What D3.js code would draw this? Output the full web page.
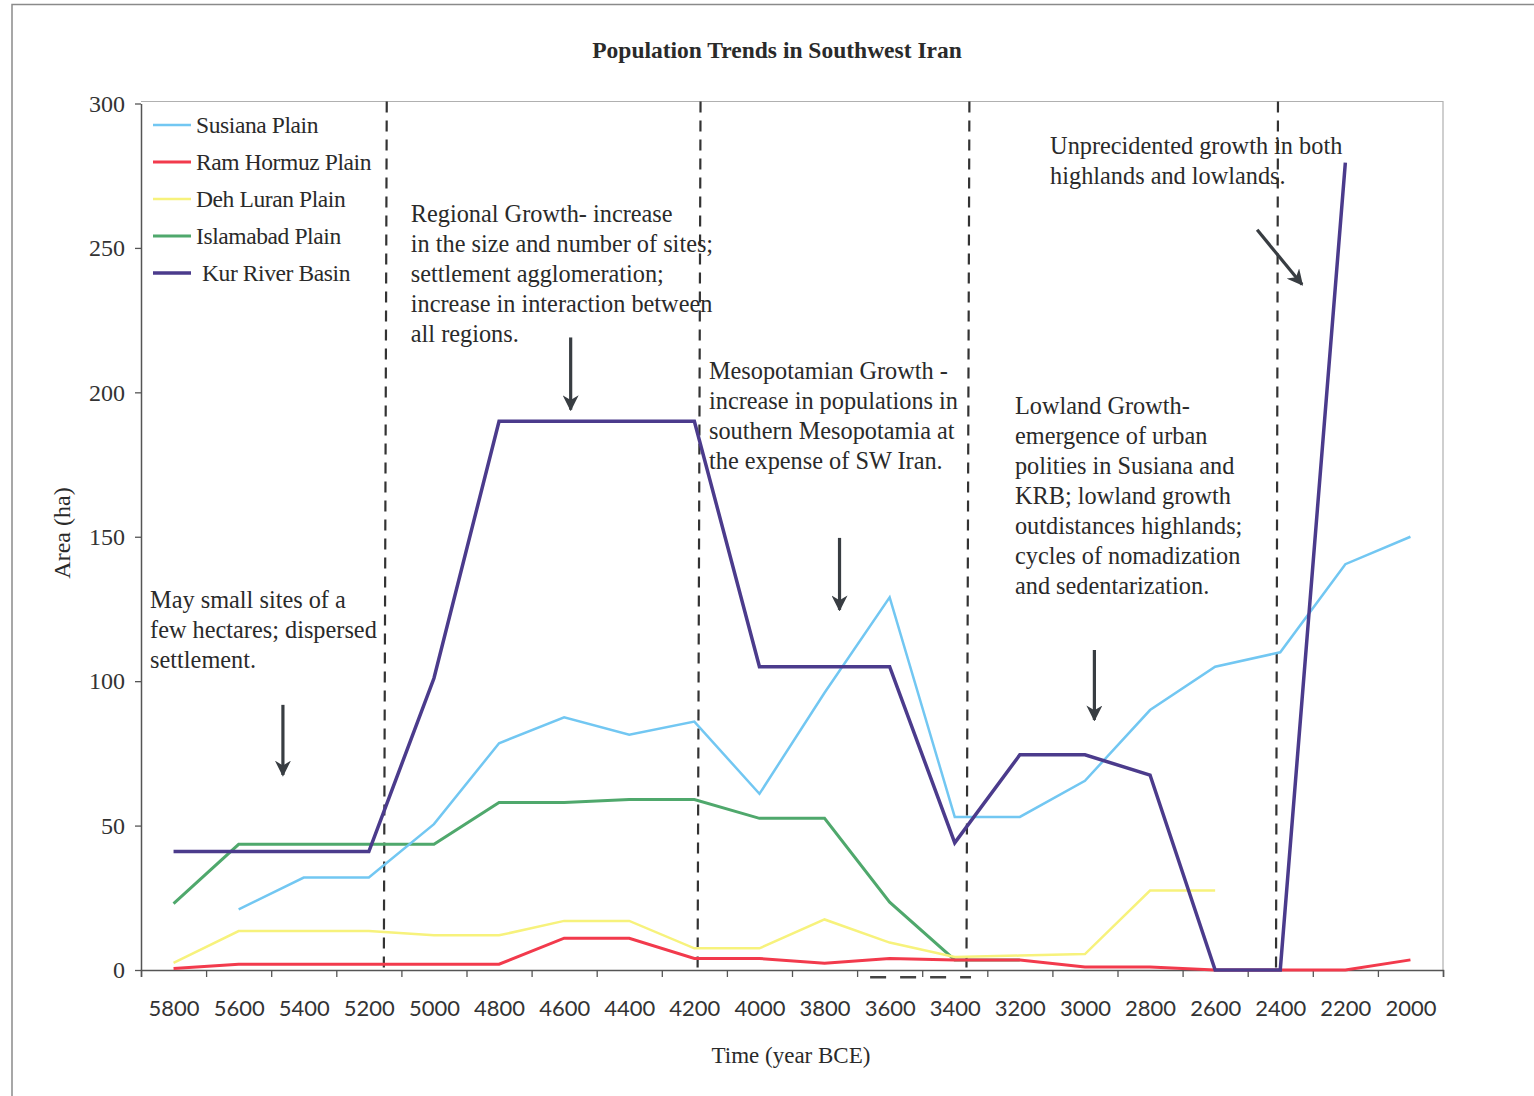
<!DOCTYPE html>
<html>
<head>
<meta charset="utf-8">
<script src="https://cdn.jsdelivr.net/npm/d3@7"></script>
<style>
  html, body { margin: 0; padding: 0; background: #fff; }
  svg { display: block; }
</style>
</head>
<body>
<svg id="chart" width="1534" height="1096"></svg>
<script>
// ---------- DATA ----------
const years = [5800, 5600, 5400, 5200, 5000, 4800, 4600, 4400, 4200, 4000, 3800, 3600, 3400, 3200, 3000, 2800, 2600, 2400, 2200, 2000];
const susianaPlain   = [null, 21, 32, 32, 50.5, 78.5, 87.5, 81.5, 86, 61, 96, 129, 53, 53, 65.5, 90, 105, 110, 140.5, 150];
const ramHormuzPlain = [0.5, 2, 2, 2, 2, 2, 11, 11, 4, 4, 2.3, 4, 3.5, 3.5, 1, 1, 0, 0, 0, 3.5];
const dehLuranPlain  = [2.5, 13.5, 13.5, 13.5, 12, 12, 17, 17, 7.5, 7.5, 17.5, 9.5, 4.5, 5, 5.5, 27.5, 27.5, null, null, null];
const islamabadPlain = [23, 43.5, 43.5, 43.5, 43.5, 58, 58, 59, 59, 52.5, 52.5, 23.5, 3.5, 3.5, null, null, null, null, null, null];
const kurRiverBasin  = [41, 41, 41, 41, 101, 190, 190, 190, 190, 105, 105, 105, 44, 74.5, 74.5, 67.5, 0, 0, 279.5, null];
const seriesNames = ["Susiana Plain", "Ram Hormuz Plain", "Deh Luran Plain", "Islamabad Plain", "Kur River Basin"];
const yTicks = [0, 50, 100, 150, 200, 250, 300];
// category boundaries (tick marks between categories)
const boundaryYears = [5900, 5700, 5500, 5300, 5100, 4900, 4700, 4500, 4300, 4100, 3900, 3700, 3500, 3300, 3100, 2900, 2700, 2500, 2300, 2100, 1900];
// period dividers (dashed), [year at top, year at bottom]
const dividers = [[5145, 5154], [4181, 4190], [3355, 3364], [2407, 2413]];

// ---------- STYLE / LAYOUT ----------
const colors = ["#72c7f2", "#f23a4c", "#f7f27c", "#4fa86c", "#4b3b8c"];
const widths = [2.5, 3, 2.5, 3, 3.5];
const serif = "'Liberation Serif', 'Times New Roman', serif";
const sans = "Lato, 'Open Sans', sans-serif";
const pLeft = 141, pRight = 1443, pTop = 103.5, pBottom = 970;

const svg = d3.select("#chart");
const x = d3.scaleLinear().domain([5900, 1900]).range([pLeft, pRight]);
const y = d3.scaleLinear().domain([0, 300]).range([pBottom, pTop]);

// outer frame (top and left edges)
svg.append("path").attr("d", "M12,1096 L12,4.5 L1534,4.5")
  .attr("fill", "none").attr("stroke", "#8a8a8a").attr("stroke-width", 1.5);

// plot border top/right
svg.append("path").attr("d", `M${pLeft},${pTop - 2} L${pRight},${pTop - 2} L${pRight},${pBottom}`)
  .attr("fill", "none").attr("stroke", "#b0b0b0").attr("stroke-width", 1.2);

// title
svg.append("text").attr("x", 777).attr("y", 58).attr("text-anchor", "middle")
  .style("font-family", serif).style("font-weight", "bold").style("font-size", "23.5px")
  .attr("fill", "#2a2a2a").text("Population Trends in Southwest Iran");

// y axis
const yAxis = d3.axisLeft(y).tickValues(yTicks).tickSize(6).tickSizeOuter(0).tickPadding(10);
const gy = svg.append("g").attr("transform", `translate(${pLeft},0)`).call(yAxis);
gy.select(".domain").attr("stroke", "#555").attr("stroke-width", 1.5);
gy.selectAll(".tick line").attr("stroke", "#555").attr("stroke-width", 1.3);
gy.selectAll(".tick text").style("font-family", serif).style("font-size", "24px").attr("fill", "#333");

// x axis: labels at category centers, tick marks at boundaries
const xAxis = d3.axisBottom(x).tickValues(years).tickSize(0).tickPadding(30).tickFormat(d3.format("d"));
const gx = svg.append("g").attr("transform", `translate(0,${pBottom})`).call(xAxis);
gx.select(".domain").remove();
gx.selectAll(".tick text").style("font-family", sans).style("font-size", "22px").attr("fill", "#333");
const gxt = svg.append("g").attr("transform", `translate(0,${pBottom})`)
  .call(d3.axisBottom(x).tickValues(boundaryYears).tickSize(7).tickFormat(""));
gxt.select(".domain").attr("stroke", "#555").attr("stroke-width", 1.5);
gxt.selectAll(".tick line").attr("stroke", "#555").attr("stroke-width", 1.3);

// axis titles
svg.append("text").attr("x", 791).attr("y", 1063).attr("text-anchor", "middle")
  .style("font-family", serif).style("font-size", "23px").attr("fill", "#2a2a2a").text("Time (year BCE)");
svg.append("text").attr("transform", "translate(70,533) rotate(-90)").attr("text-anchor", "middle")
  .style("font-family", serif).style("font-size", "24px").attr("fill", "#2a2a2a").text("Area (ha)");

// dividers
svg.append("g").selectAll("line").data(dividers).join("line")
  .attr("x1", d => x(d[0])).attr("y1", y(300) - 2)
  .attr("x2", d => x(d[1])).attr("y2", y(0))
  .attr("stroke", "#333").attr("stroke-width", 2.2).attr("stroke-dasharray", "11,8");

// stray dashed mark near the baseline
svg.append("line").attr("x1", x(3660)).attr("x2", x(3350)).attr("y1", y(-2.5)).attr("y2", y(-2.5))
  .attr("stroke", "#444").attr("stroke-width", 2.5).attr("stroke-dasharray", "16,14");

// series lines
const allSeries = [susianaPlain, ramHormuzPlain, dehLuranPlain, islamabadPlain, kurRiverBasin];
const drawOrder = [3, 2, 1, 0, 4];
const line = d3.line().defined(d => d[1] !== null).x(d => x(d[0])).y(d => y(d[1]));
drawOrder.forEach(i => {
  const pts = years.map((yr, j) => [yr, allSeries[i][j]]);
  svg.append("path").datum(pts).attr("d", line)
    .attr("fill", "none").attr("stroke", colors[i]).attr("stroke-width", widths[i])
    .attr("stroke-linejoin", "miter");
});

// legend
const lg = svg.append("g");
seriesNames.forEach((name, i) => {
  const ly = 125 + i * 37;
  lg.append("line").attr("x1", 153).attr("x2", 191).attr("y1", ly).attr("y2", ly)
    .attr("stroke", colors[i]).attr("stroke-width", widths[i]);
  lg.append("text").attr("x", i === 4 ? 202 : 196).attr("y", ly + 8)
    .style("font-family", serif).style("font-size", "23.5px").style("letter-spacing", "-0.4px")
    .attr("fill", "#2a2a2a").text(name);
});

// annotations
const notes = [
  { year: 5872, value: 125.3, lines: ["May small sites of a", "few hectares; dispersed", "settlement."] },
  { year: 5071, value: 258.9, lines: ["Regional Growth- increase", "in the size and number of sites;", "settlement agglomeration;", "increase in interaction between", "all regions."] },
  { year: 4155, value: 204.6, lines: ["Mesopotamian Growth -", "increase in populations in", "southern Mesopotamia at", "the expense of SW Iran."] },
  { year: 3215, value: 192.4, lines: ["Lowland Growth-", "emergence of urban", "polities in Susiana and", "KRB; lowland growth", "outdistances highlands;", "cycles of nomadization", "and sedentarization."] },
  { year: 3107, value: 282.4, lines: ["Unprecidented growth in both", "highlands and lowlands."] }
];
notes.forEach(n => {
  const t = svg.append("text").attr("x", x(n.year)).attr("y", y(n.value))
    .style("font-family", serif).style("font-size", "24.3px")
    .attr("fill", "#2a2a2a");
  n.lines.forEach((s, k) => t.append("tspan").attr("x", x(n.year)).attr("dy", k === 0 ? 0 : 30).text(s));
});

// arrows
svg.append("defs").append("marker").attr("id", "ah").attr("viewBox", "0 0 10 10")
  .attr("refX", 9).attr("refY", 5).attr("markerWidth", 5).attr("markerHeight", 5)
  .attr("markerUnits", "strokeWidth").attr("orient", "auto")
  .append("path").attr("d", "M0,0 L10,5 L0,10 L3,5 Z").attr("fill", "#383d42");
const arrows = [
  [5464, 91.8, 5464, 67.5],
  [4580, 219, 4580, 194],
  [3754, 149.6, 3754, 124.7],
  [2971, 110.8, 2971, 86.6],
  [2471, 256.3, 2333, 237.3]
];
svg.append("g").selectAll("line").data(arrows).join("line")
  .attr("x1", d => x(d[0])).attr("y1", d => y(d[1]))
  .attr("x2", d => x(d[2])).attr("y2", d => y(d[3]))
  .attr("stroke", "#383d42").attr("stroke-width", 3.2).attr("marker-end", "url(#ah)");
</script>
</body>
</html>
